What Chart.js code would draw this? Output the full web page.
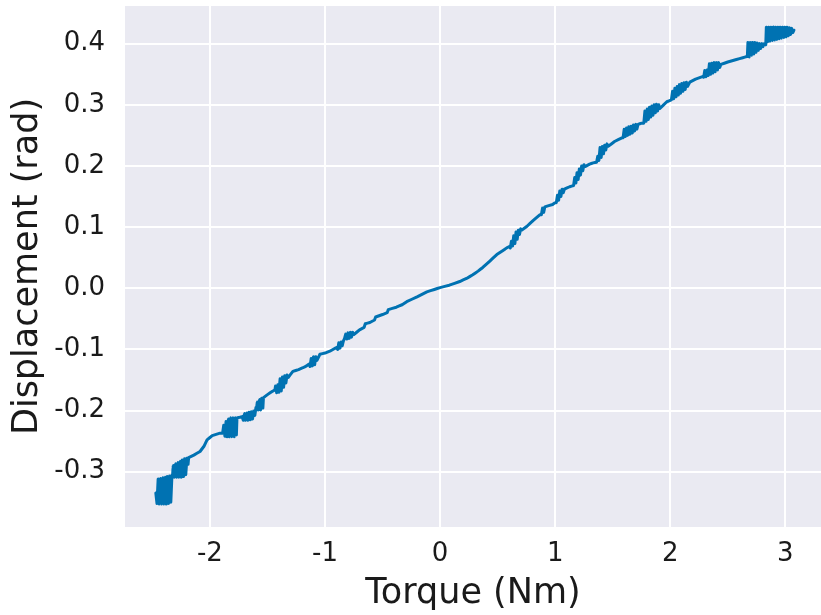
<!DOCTYPE html>
<html><head><meta charset="utf-8">
<script src="https://cdn.jsdelivr.net/npm/chart.js@4/dist/chart.umd.min.js"></script>
<style>html,body{margin:0;padding:0;background:#fff}#wrap{width:821px;height:615px}</style>
</head><body><div id="wrap"><canvas id="c" width="821" height="615"></canvas></div>
<script>
// Torque (Nm) samples
const torque = [
-2.47,-2.46,-2.45,-2.44,-2.43,-2.42,-2.41,-2.40,-2.39,-2.38,-2.37,-2.36,-2.35,-2.34,-2.33,
-2.325,-2.32,-2.31,-2.30,-2.29,-2.28,-2.27,-2.26,-2.25,-2.24,-2.23,-2.22,-2.21,-2.20,-2.19,-2.185,
-2.14,-2.086,-2.05,-2.025,-1.98,-1.912,
-1.89,-1.88,-1.87,-1.86,-1.85,-1.84,-1.83,-1.82,-1.81,-1.80,-1.79,-1.78,-1.77,-1.765,
-1.74,
-1.72,-1.71,-1.70,-1.69,-1.68,-1.67,-1.66,-1.65,-1.64,-1.63,-1.62,-1.61,
-1.60,-1.595,-1.59,-1.58,-1.57,-1.56,-1.55,-1.54,-1.535,
-1.50,-1.46,-1.435,
-1.43,-1.42,-1.41,-1.40,-1.39,-1.38,-1.37,-1.36,-1.35,-1.34,-1.33,-1.32,
-1.279,-1.23,-1.192,-1.16,
-1.14,-1.13,-1.12,-1.11,-1.10,-1.09,-1.08,-1.07,
-1.044,-1.00,-0.958,-0.92,
-0.90,-0.89,-0.88,-0.87,-0.86,-0.85,
-0.84,-0.83,-0.82,-0.81,-0.80,-0.79,-0.78,-0.77,-0.76,-0.75,
-0.70,-0.66,-0.65,-0.61,-0.57,-0.56,-0.50,-0.46,-0.45,-0.38,-0.33,-0.29,-0.20,-0.115,-0.05,0.0,
0.08,0.171,0.23,0.284,0.33,0.371,0.43,0.493,0.54,0.579,
0.60,0.61,0.62,0.63,0.64,0.65,0.66,0.67,0.68,0.69,0.70,0.71,
0.753,0.81,0.866,0.88,0.89,0.90,0.91,0.978,
1.00,1.01,1.02,1.03,1.04,1.05,1.06,1.07,1.08,
1.126,
1.16,1.17,1.18,1.19,1.20,1.21,1.22,1.23,1.24,1.25,1.26,
1.299,1.33,
1.36,1.37,1.38,1.39,1.40,1.41,1.42,1.43,1.44,1.45,1.46,
1.516,1.58,
1.59,1.60,1.61,1.62,1.63,1.64,1.65,1.66,1.67,1.68,1.69,1.70,1.71,1.72,
1.751,
1.77,1.78,1.79,1.80,1.81,1.82,1.83,1.84,1.85,1.86,1.87,1.88,1.89,1.90,1.91,
1.97,
2.01,2.02,2.03,2.04,2.05,2.06,2.07,2.08,2.09,2.10,2.11,2.12,2.13,2.14,2.15,
2.17,2.22,2.28,
2.29,2.30,2.31,2.32,2.33,2.34,2.35,2.36,2.37,2.38,2.39,2.40,2.41,2.42,2.43,2.44,
2.50,2.575,2.63,2.665,
2.67,2.675,2.685,2.695,2.705,2.715,2.725,2.735,2.745,2.755,2.765,2.775,2.785,2.795,2.805,2.815,2.83,
2.835,2.845,2.855,2.865,2.875,2.885,2.895,2.905,2.915,2.925,2.935,2.945,2.955,2.965,2.975,2.985,2.995,3.005,3.015,3.025,3.035,3.045,3.055,3.065,3.075
];
// Displacement (rad) at each torque sample
const displacement = [
-0.335,-0.352,-0.312,-0.353,-0.311,-0.353,-0.310,-0.353,-0.309,-0.353,-0.308,-0.352,-0.307,-0.350,-0.306,
-0.309,-0.290,-0.309,-0.287,-0.309,-0.285,-0.309,-0.283,-0.309,-0.281,-0.308,-0.279,-0.305,-0.278,-0.288,-0.277,
-0.273,-0.267,-0.258,-0.248,-0.241,-0.237,
-0.237,-0.224,-0.242,-0.218,-0.243,-0.214,-0.243,-0.212,-0.243,-0.212,-0.243,-0.212,-0.240,-0.212,
-0.211,
-0.210,-0.216,-0.205,-0.216,-0.204,-0.216,-0.203,-0.215,-0.202,-0.214,-0.201,-0.208,
-0.195,-0.199,-0.186,-0.199,-0.182,-0.199,-0.180,-0.196,-0.179,
-0.174,-0.169,-0.166,
-0.160,-0.171,-0.158,-0.170,-0.148,-0.168,-0.145,-0.162,-0.143,-0.155,-0.142,-0.146,
-0.136,-0.133,-0.130,-0.127,
-0.124,-0.128,-0.115,-0.127,-0.112,-0.125,-0.112,-0.118,
-0.108,-0.106,-0.103,-0.099,
-0.097,-0.100,-0.089,-0.098,-0.088,-0.094,
-0.086,-0.082,-0.075,-0.083,-0.073,-0.082,-0.072,-0.080,-0.072,-0.076,
-0.068,-0.064,-0.058,-0.056,-0.052,-0.047,-0.043,-0.040,-0.035,-0.031,-0.027,-0.022,-0.014,-0.006,-0.002,0.001,
0.005,0.011,0.016,0.022,0.028,0.034,0.044,0.055,0.061,0.066,
0.068,0.066,0.077,0.069,0.086,0.073,0.092,0.080,0.095,0.088,0.097,0.095,
0.101,0.111,0.120,0.120,0.131,0.124,0.133,0.137,
0.140,0.140,0.152,0.144,0.159,0.150,0.162,0.156,0.162,
0.166,
0.168,0.181,0.172,0.189,0.178,0.195,0.185,0.200,0.192,0.202,0.199,
0.203,0.205,
0.206,0.216,0.209,0.230,0.214,0.232,0.220,0.234,0.226,0.236,0.232,
0.240,0.246,
0.246,0.260,0.248,0.262,0.250,0.264,0.252,0.265,0.254,0.267,0.257,0.268,0.260,0.268,
0.270,
0.270,0.290,0.273,0.293,0.276,0.296,0.280,0.298,0.283,0.300,0.287,0.301,0.290,0.300,0.294,
0.305,
0.308,0.322,0.310,0.327,0.313,0.330,0.316,0.333,0.319,0.335,0.322,0.336,0.325,0.337,0.330,
0.337,0.342,0.346,
0.345,0.356,0.346,0.357,0.348,0.367,0.350,0.368,0.352,0.369,0.354,0.369,0.357,0.369,0.361,0.366,
0.370,0.374,0.377,0.379,
0.379,0.402,0.378,0.402,0.381,0.402,0.383,0.402,0.386,0.401,0.389,0.400,0.392,0.400,0.395,0.400,0.398,
0.427,0.403,0.427,0.404,0.427,0.405,0.427,0.406,0.427,0.407,0.427,0.408,0.427,0.409,0.427,0.410,0.427,0.411,0.427,0.413,0.426,0.415,0.425,0.418,0.422
];
const xTickValues = [-2, -1, 0, 1, 2, 3];
const yTickValues = [-0.3, -0.2, -0.1, 0.0, 0.1, 0.2, 0.3, 0.4];
const xTitle = 'Torque (Nm)';
const yTitle = 'Displacement (rad)';

const FONT = 'DejaVu Sans';
const TXT = '#1a1a1a';
const points = torque.map((t, i) => ({x: t, y: displacement[i]}));

const bgPlugin = {
  id: 'bg',
  beforeDraw(chart) {
    const {ctx, chartArea: a} = chart;
    ctx.save();
    ctx.fillStyle = '#EAEAF2';
    ctx.fillRect(a.left, a.top, a.right - a.left, a.bottom - a.top);
    ctx.restore();
  }
};

function zeroPad(s) { s.paddingTop = 0; s.paddingBottom = 0; s.paddingLeft = 0; s.paddingRight = 0; }

new Chart(document.getElementById('c'), {
  type: 'scatter',
  data: {
    datasets: [{
      data: points,
      showLine: true,
      borderColor: '#0072B2',
      backgroundColor: '#0072B2',
      borderWidth: 3,
      pointRadius: 0,
      tension: 0.001,
      fill: false,
      borderJoinStyle: 'round',
      borderCapStyle: 'round'
    }]
  },
  options: {
    responsive: false,
    animation: false,
    devicePixelRatio: 1,
    layout: {padding: {top: 6, right: 0, left: 0, bottom: 0}},
    plugins: {legend: {display: false}, tooltip: {enabled: false}},
    scales: {
      x: {
        type: 'linear',
        min: -2.738, max: 3.31,
        afterFit(s) { s.height = 88; zeroPad(s); },
        afterBuildTicks(s) { s.ticks = xTickValues.map(v => ({value: v})); },
        ticks: {font: {family: FONT, size: 26}, color: TXT, padding: 12, maxRotation: 0,
          callback: v => String(v)},
        grid: {color: '#ffffff', lineWidth: 2, drawTicks: false},
        border: {display: false},
        title: {display: true, text: xTitle, color: TXT, font: {family: FONT, size: 35}, padding: {top: 0, bottom: 0}}
      },
      y: {
        type: 'linear',
        min: -0.3905, max: 0.4616,
        afterFit(s) { s.width = 125; zeroPad(s); },
        afterBuildTicks(s) { s.ticks = yTickValues.map(v => ({value: v})); },
        ticks: {font: {family: FONT, size: 26}, color: TXT, padding: 20,
          callback: v => Number(v).toFixed(1)},
        grid: {color: '#ffffff', lineWidth: 2, drawTicks: false},
        border: {display: false},
        title: {display: true, text: yTitle, color: TXT, font: {family: FONT, size: 35}, padding: {top: 7, bottom: 0}}
      }
    }
  },
  plugins: [bgPlugin]
});
</script>
</body></html>
